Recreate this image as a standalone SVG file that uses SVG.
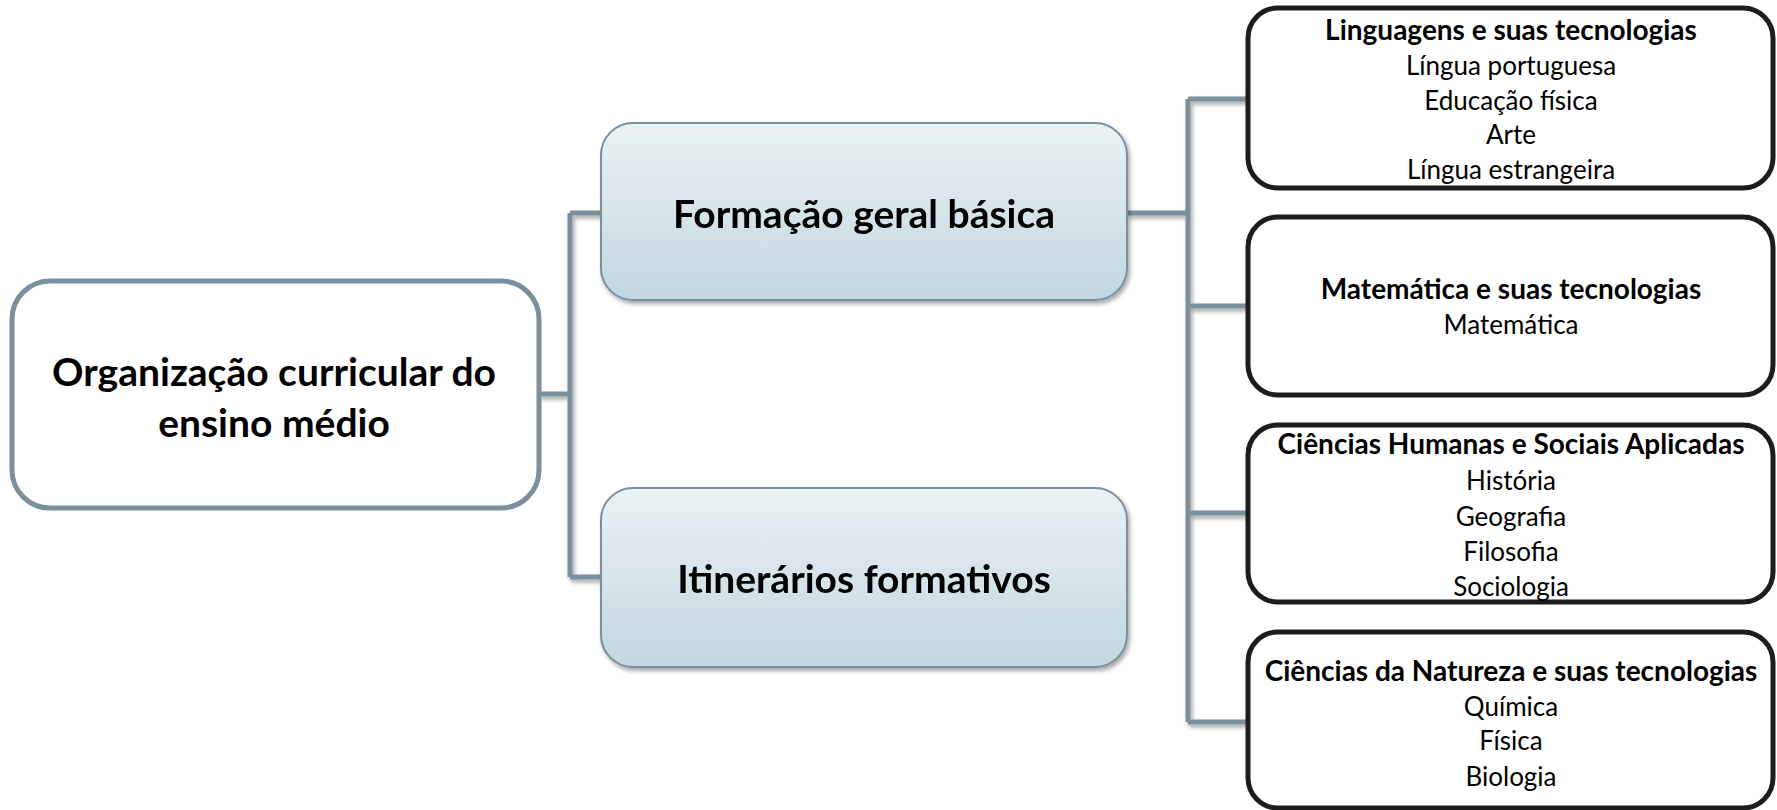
<svg xmlns="http://www.w3.org/2000/svg" width="1777" height="810" viewBox="0 0 1777 810">
  <defs>
    <linearGradient id="blueGrad" x1="0" y1="0" x2="0" y2="1">
      <stop offset="0" stop-color="#ebf1f4"/>
      <stop offset="1" stop-color="#c2d7e1"/>
    </linearGradient>
    <filter id="shadow" x="-10%" y="-10%" width="130%" height="130%">
      <feDropShadow dx="2" dy="3" stdDeviation="2" flood-color="#000" flood-opacity="0.35"/>
    </filter>
    <filter id="lshadow" x="-5%" y="-5%" width="120%" height="120%">
      <feDropShadow dx="2" dy="3" stdDeviation="2" flood-color="#000" flood-opacity="0.35"/>
    </filter>
  </defs>
  <style>
    .conn { fill: none; stroke: #7a909c; stroke-width: 5; stroke-linejoin: miter; }
    .root { fill: #ffffff; stroke: #7a909c; stroke-width: 5; }
    .mid { fill: url(#blueGrad); stroke: #7a909c; stroke-width: 2; }
    .leaf { fill: #ffffff; stroke: #1c1c1c; stroke-width: 5; }
    .big { font-family: Lato, "Open Sans", sans-serif; font-weight: bold; font-size: 39px; fill: #000; text-anchor: middle; }
    .title { font-family: Lato, "Open Sans", sans-serif; font-weight: bold; font-size: 28px; fill: #000; text-anchor: middle; }
    .item { font-family: Lato, "Open Sans", sans-serif; font-size: 26px; fill: #000; text-anchor: middle; }
  </style>

  <g id="connectors" filter="url(#lshadow)">
    <path class="conn" d="M539,394 H570 M570,213 V577 M570,213 H601 M570,577 H601"/>
    <path class="conn" d="M1127,213 H1188 M1188,99 V722 M1188,99 H1248 M1188,306 H1248 M1188,513 H1248 M1188,722 H1248"/>
  </g>

  <g id="root">
    <rect class="root" x="12" y="281" width="527" height="227" rx="38" ry="38"/>
    <text class="big" x="274" y="386">Organização curricular do</text>
    <text class="big" x="274" y="437">ensino médio</text>
  </g>

  <g id="formacao" filter="url(#shadow)">
    <rect class="mid" x="601" y="123" width="526" height="177" rx="32" ry="32"/>
    <text class="big" x="864" y="228">Formação geral básica</text>
  </g>

  <g id="itinerarios" filter="url(#shadow)">
    <rect class="mid" x="601" y="488" width="526" height="179" rx="32" ry="32"/>
    <text class="big" x="864" y="593">Itinerários formativos</text>
  </g>

  <g id="linguagens">
    <rect class="leaf" x="1248" y="8" width="525" height="180" rx="30" ry="30"/>
    <text class="title" x="1511" y="40">Linguagens e suas tecnologias</text>
    <text class="item" x="1511" y="75">Língua portuguesa</text>
    <text class="item" x="1511" y="110">Educação física</text>
    <text class="item" x="1511" y="144">Arte</text>
    <text class="item" x="1511" y="179">Língua estrangeira</text>
  </g>

  <g id="matematica">
    <rect class="leaf" x="1248" y="217" width="525" height="178" rx="30" ry="30"/>
    <text class="title" x="1511" y="299">Matemática e suas tecnologias</text>
    <text class="item" x="1511" y="334">Matemática</text>
  </g>

  <g id="humanas">
    <rect class="leaf" x="1248" y="425" width="525" height="177" rx="30" ry="30"/>
    <text class="title" x="1511" y="454">Ciências Humanas e Sociais Aplicadas</text>
    <text class="item" x="1511" y="490">História</text>
    <text class="item" x="1511" y="526">Geografia</text>
    <text class="item" x="1511" y="561">Filosofia</text>
    <text class="item" x="1511" y="596">Sociologia</text>
  </g>

  <g id="natureza">
    <rect class="leaf" x="1248" y="632" width="525" height="176" rx="30" ry="30"/>
    <text class="title" x="1511" y="681">Ciências da Natureza e suas tecnologias</text>
    <text class="item" x="1511" y="716">Química</text>
    <text class="item" x="1511" y="750">Física</text>
    <text class="item" x="1511" y="786">Biologia</text>
  </g>
</svg>
